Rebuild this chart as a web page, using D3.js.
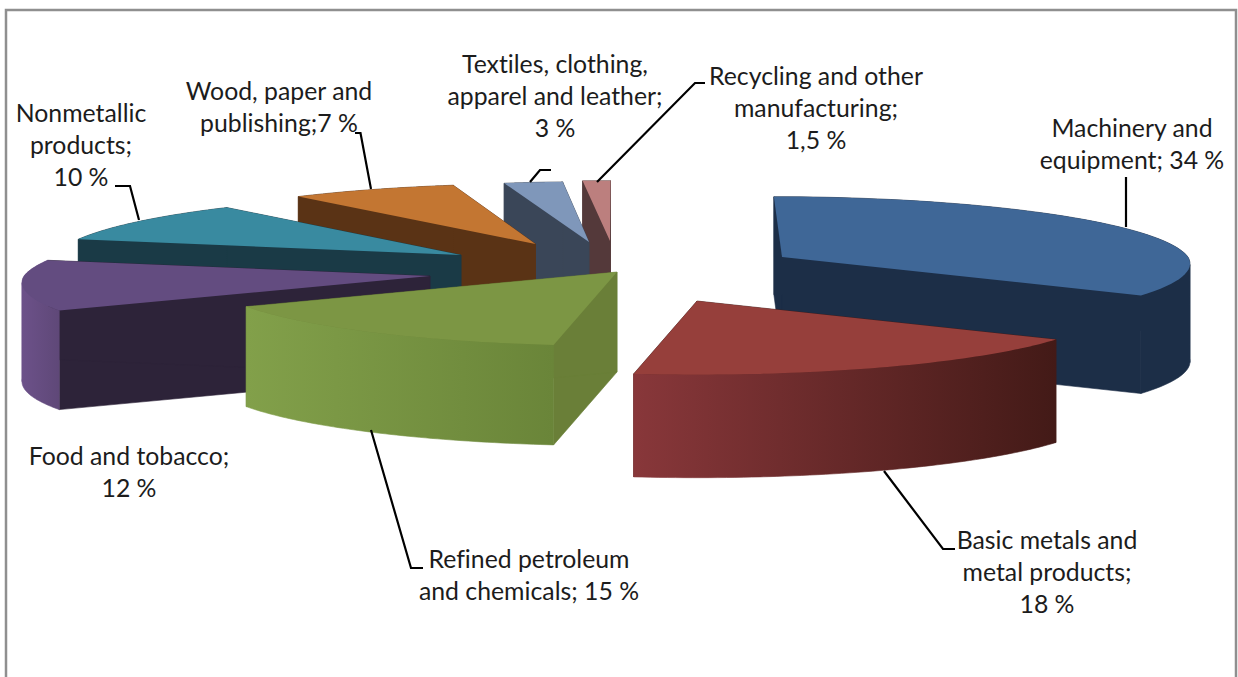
<!DOCTYPE html>
<html><head><meta charset="utf-8">
<script src="https://cdn.jsdelivr.net/npm/d3@7"></script>
<style>html,body{margin:0;padding:0;background:#fff;overflow:hidden}svg{display:block}</style>
</head><body><svg id="c" width="1238" height="677"></svg>
<script>
// ---- data ----
const categories = ["Machinery and equipment","Basic metals and metal products","Refined petroleum and chemicals","Food and tobacco","Nonmetallic products","Wood, paper and publishing","Textiles, clothing, apparel and leather","Recycling and other manufacturing"];
const values = [34,18,15,12,10,7,3,1.5];
const labelLines = [
  ["Machinery and","equipment; 34 %"],
  ["Basic metals and","metal products;","18 %"],
  ["Refined petroleum","and chemicals; 15 %"],
  ["Food and tobacco;","12 %"],
  ["Nonmetallic","products;","10 %"],
  ["Wood, paper and","publishing;7 %"],
  ["Textiles, clothing,","apparel and leather;","3 %"],
  ["Recycling and other","manufacturing;","1,5 %"]
];
// ---- palette ----
const topColors   = ["#3f6797","#963f3b","#7c9644","#634c80","#398aa0","#c37632","#7f97ba","#bc7f7e"];
const wallColors  = ["#1c2e47","#451b18","#6a7f38","#2d2339","#1a3a46","#5a3315","#3a4658","#54393a"];
const outerLeft   = ["#1c2e47","#88373a","#82a04a","#6c5189","#1a3a46","#5a3315","#3a4658","#54393a"];
const outerRight  = ["#1c2e47","#431a17","#6a8539","#5f4878","#1a3a46","#5a3315","#3a4658","#54393a"];
// ---- layout of the exploded 3-D pie ----
const W = 1238, H = 677;
const apexX = [782,697,617,430,461,535.5,589,610];
const apexY = [257,301,272,276,255,244,242,241];
const sliceDepth = [98,103,100,99,100,100,100,100];
const drawOrder = [7,6,5,4,3,0,1,2];
const R = 406, RY = 67, PERSP_X = 0.1, PERSP_Y = 0.1, VP = 620, VP_K = 0.05;
const labelCx = [1132,1047,529,129,81,279,555,816];
const labelY0 = [137,549,568,465,122,100,73,85];
const LINE_H = 32;
const leaders = [
  [[1126,177],[1126,227]],
  [[884,471],[943,549],[955,549]],
  [[371,430],[411,568],[423,568]],
  [],
  [[115,186],[130,186],[139,220]],
  [[355,133],[360.5,133],[371,189]],
  [[530,182],[540,170],[551,170]],
  [[597,182],[695,83],[705,83]]
];

const svg = d3.select("#c");
const defs = svg.append("defs");
const pie = d3.pie().sort(null).value(d => d);
const arcs = pie(values);
const deg = Math.PI/180;
// pie fractions -> drawn angle: the source chart's percentages sum past 100, and its
// perspective stretches the near side of the disc
const warp = d3.scaleLinear()
  .domain([0,186.3,240,318.9,344,354.6,360].map(d=>d*deg))
  .range([0,188.2,240.5,320.2,346.5,355.6,360].map(d=>d*deg));
const project = (i, a) => {
  const s = Math.sin(a), c = Math.cos(a);
  return [
    apexX[i] + R*s*(1 - PERSP_X*c) + (VP - apexX[i])*VP_K*Math.max(c,0),
    apexY[i] - RY*c*(1 - PERSP_Y*c)
  ];
};
const line = d3.line();
svg.append("rect").attr("x",6).attr("y",10).attr("width",1230).attr("height",H+20)
  .attr("fill","#fff").attr("stroke","#8f8f8f").attr("stroke-width",2.5);

drawOrder.forEach(i => {
  const d = arcs[i];
  const interp = d3.interpolateNumber(d.startAngle,d.endAngle);
  const rim = d3.range(0,61).map(k => project(i,warp(interp(k/60))));
  const down = p => [p[0],p[1]+sliceDepth[i]];
  const apex = [apexX[i],apexY[i]];
  const g = svg.append("g").attr("class","slice");
  const gid = "outer"+i;
  const xs = d3.extent(rim,p=>p[0]);
  const lg = defs.append("linearGradient").attr("id",gid).attr("gradientUnits","userSpaceOnUse")
    .attr("x1",xs[0]).attr("x2",xs[1]).attr("y1",0).attr("y2",0);
  lg.append("stop").attr("offset",0).attr("stop-color",outerLeft[i]);
  lg.append("stop").attr("offset",1).attr("stop-color",outerRight[i]);
  // radial walls
  [rim[0],rim[rim.length-1]].forEach(p => {
    g.append("path").attr("d",line([apex,p,down(p),down(apex)])+"Z")
      .attr("fill",wallColors[i]).attr("stroke",wallColors[i]).attr("stroke-width",0.6);
  });
  // rim wall, split where the rim turns back in x so that each part is a simple polygon
  const turns = [0];
  for (let k=1;k<rim.length-1;k++) {
    if ((rim[k][0]-rim[k-1][0])*(rim[k+1][0]-rim[k][0])<0) turns.push(k);
  }
  turns.push(rim.length-1);
  d3.pairs(turns).forEach(([a,b]) => {
    const part = rim.slice(a,b+1);
    g.append("path").attr("d",line(part.concat(part.map(down).reverse()))+"Z")
      .attr("fill",`url(#${gid})`).attr("stroke",`url(#${gid})`).attr("stroke-width",0.6);
  });
  // top
  g.append("path").attr("d",line([apex].concat(rim))+"Z").attr("fill",topColors[i]);
});

// leader lines
svg.append("g").selectAll("path").data(leaders.filter(l=>l.length)).join("path")
  .attr("d",d=>line(d)).attr("fill","none").attr("stroke","#000").attr("stroke-width",2.2);

// labels
const labels = svg.append("g").attr("font-family","Lato, 'Open Sans', sans-serif")
  .attr("font-size",24.8).attr("fill","#1c1c1c").attr("text-anchor","middle")
  .style("font-variant-ligatures","none");
categories.forEach((c,i) => {
  labels.append("text").selectAll("tspan").data(labelLines[i]).join("tspan")
    .attr("x",labelCx[i]).attr("y",(d,k)=>labelY0[i]+k*LINE_H).text(d=>d);
});
</script></body></html>
